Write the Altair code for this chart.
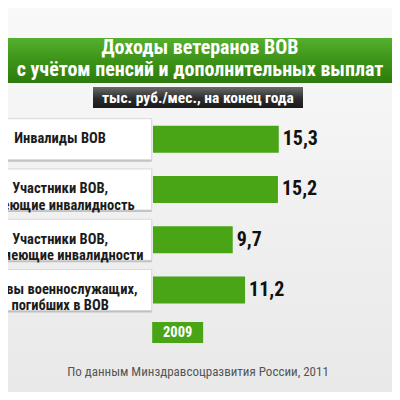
import altair as alt
import pandas as pd

# ---- data ----
categories = [
    "Инвалиды ВОВ",
    "Участники ВОВ,\nимеющие инвалидность",
    "Участники ВОВ,\nне имеющие инвалидности",
    "Вдовы военнослужащих,\nпогибших в ВОВ",
]
values = [15.3, 15.2, 9.7, 11.2]
value_labels = ["15,3", "15,2", "9,7", "11,2"]
title_lines = ["Доходы ветеранов ВОВ", "с учётом пенсий и дополнительных выплат"]
subtitle = "тыс. руб./мес., на конец года"
year = "2009"
source = "По данным Минздравсоцразвития России, 2011"

df = pd.DataFrame({"cat": categories, "value": values, "label": value_labels})
one = pd.DataFrame({"k": [0]})

COND = "Roboto Condensed, DejaVu Sans Condensed, sans-serif"
GREEN = "#49a416"

xscale = alt.Scale(domain=[0, 30], range=[145, 391.6])
yscale = alt.Scale(domain=categories, range=[106.07, 307.13], paddingInner=0.463, paddingOuter=0.2315)
Y = alt.Y("cat:N", sort=categories, scale=yscale, axis=None)

base = alt.Chart(df)


def grad(stops):
    return alt.Gradient(gradient="linear", x1=0, x2=0, y1=0, y2=1,
                        stops=[alt.GradientStop(color=c, offset=o) for c, o in stops])


bg = alt.Chart(one).mark_rect(color=grad([("#f9f9f9", 0), ("#efefef", 0.6), ("#e9e9e9", 1)])).encode(
    x=alt.value(0), x2=alt.value(384), y=alt.value(0), y2=alt.value(384))

band = alt.Chart(one).mark_rect(
    color=grad([("#55b02e", 0), ("#3d9318", 0.5), ("#2e7a0e", 1)])
).encode(x=alt.value(0), x2=alt.value(384), y=alt.value(30), y2=alt.value(75))

title1 = alt.Chart(pd.DataFrame({"t": [title_lines[0]]})).mark_text(
    font=COND, fontWeight="bold", fontSize=20, color="white", align="center", baseline="middle"
).encode(x=alt.value(192), y=alt.value(39.5), text="t:N")
title2 = alt.Chart(pd.DataFrame({"t": [title_lines[1]]})).mark_text(
    font=COND, fontWeight="bold", fontSize=20, color="white", align="center", baseline="middle"
).encode(x=alt.value(192), y=alt.value(61.5), text="t:N")

sub_box = alt.Chart(one).mark_rect(
    color=grad([("#6a6a6a", 0), ("#2c2c2c", 0.55), ("#1a1a1a", 1)])
).encode(x=alt.value(85), x2=alt.value(295), y=alt.value(79), y2=alt.value(100))
sub_txt = alt.Chart(pd.DataFrame({"t": [subtitle]})).mark_text(
    font=COND, fontWeight="bold", fontSize=15.5, color="white", align="center", baseline="middle"
).encode(x=alt.value(190), y=alt.value(89.5), text="t:N")

shadow = base.mark_bar(size=41, color="#9a9a9a", opacity=0.55, xOffset=2, yOffset=2).encode(
    x=alt.X(datum=-25, scale=xscale, axis=None), x2=alt.datum(-0.15), y=Y)
boxes = base.mark_bar(size=41, color="white", stroke="#d0d0d0", strokeWidth=0.8).encode(
    x=alt.X(datum=-25, scale=xscale, axis=None), x2=alt.datum(-0.15), y=Y)
box_txt = base.mark_text(
    font=COND, fontWeight="bold", fontSize=14.5, color="#1c1c1c", align="center",
    baseline="middle", lineBreak="\n", lineHeight=16.5
).encode(x=alt.X(datum=-11.3, scale=xscale, axis=None), y=Y, text="cat:N")

bars = base.mark_bar(color=GREEN).encode(
    x=alt.X("value:Q", scale=xscale, axis=None), x2=alt.datum(0), y=Y)
val_txt = base.mark_text(
    font=COND, fontWeight="bold", fontSize=20, color="#111111", align="left", baseline="middle", dx=4
).encode(x=alt.X("value:Q", scale=xscale, axis=None), y=Y, text="label:N")

year_box = alt.Chart(one).mark_rect(color=GREEN).encode(
    x=alt.X(datum=-0.1, scale=xscale, axis=None), x2=alt.datum(6.1), y=alt.value(314), y2=alt.value(335))
year_txt = alt.Chart(pd.DataFrame({"t": [year]})).mark_text(
    font=COND, fontWeight="bold", fontSize=14.5, color="white", align="center", baseline="middle"
).encode(x=alt.X(datum=3.0, scale=xscale, axis=None), y=alt.value(324.5), text="t:N")

src_txt = alt.Chart(pd.DataFrame({"t": [source]})).mark_text(
    font=COND, fontSize=13, color="#555555", align="center", baseline="middle"
).encode(x=alt.value(190), y=alt.value(364), text="t:N")

chart = alt.layer(
    bg, band, title1, title2, sub_box, sub_txt, shadow, boxes, box_txt, bars, val_txt,
    year_box, year_txt, src_txt
).properties(
    width=384, height=384, autosize=alt.AutoSizeParams(type="none"), padding=0
).configure_view(stroke=None)

chart.save("out.html", embed_options={"renderer": "svg", "actions": False})
